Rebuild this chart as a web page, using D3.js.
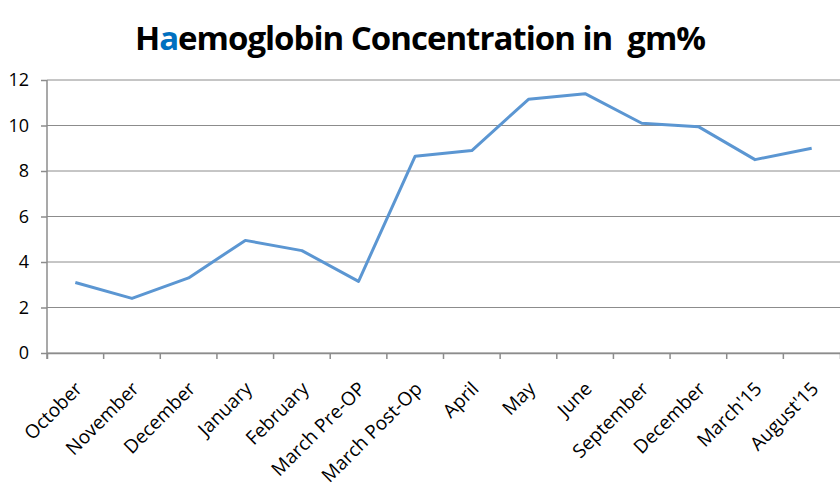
<!DOCTYPE html>
<html lang="en">
<head>
    <meta charset="UTF-8">
    <title>Haemoglobin Concentration</title>
    <script src="https://d3js.org/d3.v7.min.js"></script>
    <style>
        body { margin: 0; background: #fff; }
        text { font-family: "Open Sans", sans-serif; font-variant-ligatures: none; }
    </style>
</head>
<body>
    <div id="chart"></div>
    <script>

var months = ['October', 'November', 'December', 'January', 'February', 'March Pre-OP',
    'March Post-Op', 'April', 'May', 'June', 'September', 'December ', "March'15", "August'15"];
var haemoglobin = [3.1, 2.4, 3.3, 4.95, 4.5, 3.15, 8.65, 8.9, 11.15, 11.4, 10.1, 9.95, 8.5, 9.0];
var yTicks = [0, 2, 4, 6, 8, 10, 12];

var width = 840, height = 492;
var margin = {top: 80, left: 47, bottom: 139, right: 0};

var svg = d3.select('#chart').append('svg')
    .attr('width', width)
    .attr('height', height);

// title, the "a" is highlighted in blue like the original
var title = svg.append('text')
    .attr('x', 420)
    .attr('y', 50)
    .attr('text-anchor', 'middle')
    .style('font-size', '33px')
    .style('font-weight', 'bold')
    .style('letter-spacing', '-1px')
    .style('white-space', 'pre')
    .style('fill', '#000');
title.append('tspan').text('H');
title.append('tspan').text('a').style('fill', '#0070C0');
title.append('tspan').text('emoglobin Concentration in  gm%');

var x = d3.scaleBand()
    .domain(months)
    .range([margin.left, width - margin.right]);

var y = d3.scaleLinear()
    .domain([0, 12])
    .range([height - margin.bottom, margin.top]);

// gridlines
svg.append('g')
    .selectAll('line')
    .data(yTicks)
    .enter()
    .append('line')
    .attr('x1', margin.left)
    .attr('x2', width - margin.right)
    .attr('y1', function(d) { return y(d); })
    .attr('y2', function(d) { return y(d); })
    .style('stroke', '#8c8c8c')
    .style('stroke-width', 1);

// y axis
var yAxis = svg.append('g')
    .attr('transform', 'translate(' + margin.left + ',0)')
    .call(d3.axisLeft(y).tickValues(yTicks).tickSize(6).tickPadding(12).tickFormat(d3.format('d')));
yAxis.selectAll('text').style('font-size', '18px').style('fill', '#000').style('font-family', '"Open Sans", sans-serif');

// x axis
var xAxis = svg.append('g')
    .attr('transform', 'translate(0,' + y(0) + ')')
    .call(d3.axisBottom(x).tickSize(6).tickFormat(function(d) { return d.trim(); }));
xAxis.selectAll('.tick line')
    .attr('transform', 'translate(' + (-x.bandwidth() / 2) + ',0)');
xAxis.selectAll('text')
    .style('font-size', '19px')
    .style('fill', '#000')
    .style('font-family', '"Open Sans", sans-serif')
    .attr('text-anchor', 'end')
    .attr('dy', 0)
    .attr('y', 0)
    .attr('transform', 'translate(8,37) rotate(-45)');

svg.selectAll('.domain, .tick line')
    .style('stroke', '#8c8c8c')
    .style('stroke-width', 1.5);
yAxis.select('.domain').attr('d', 'M0,' + y(12) + 'V' + y(0));

// the line
var line = d3.line()
    .x(function(d, i) { return x(months[i]) + x.bandwidth() / 2; })
    .y(function(d) { return y(d); });

svg.append('path')
    .datum(haemoglobin)
    .attr('d', line)
    .style('fill', 'none')
    .style('stroke', '#5b96d2')
    .style('stroke-width', 3)
    .style('stroke-linejoin', 'round');

    </script>
</body>
</html>
